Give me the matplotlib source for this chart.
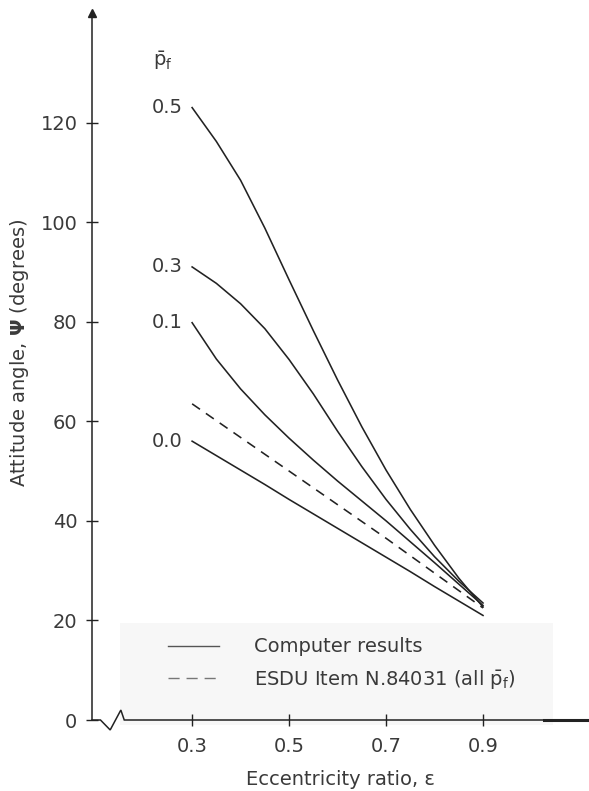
"""
Attitude angle vs eccentricity ratio for several feed pressures,
computer results against the ESDU item line.
"""

import matplotlib
matplotlib.use("Agg")
import matplotlib.pyplot as plt
from matplotlib.lines import Line2D
from matplotlib.patches import Rectangle

INK = "#222222"
TEXT = "#3a3a3a"

ecc = [0.3, 0.35, 0.4, 0.45, 0.5, 0.55, 0.6, 0.65, 0.7, 0.75, 0.8, 0.85, 0.9]
psi_pf_05 = [123, 116.2, 108.4, 98.8, 88.4, 78.2, 68.3, 58.9, 50.2, 42.3, 35.1, 28.5, 22.7]
psi_pf_03 = [91, 87.7, 83.6, 78.6, 72.4, 65.5, 58, 50.9, 44.3, 38.3, 32.8, 27.9, 23.5]
psi_pf_01 = [79.8, 72.5, 66.5, 61.3, 56.6, 52.2, 48, 44, 40, 35.8, 31.6, 27.3, 23]
psi_pf_00 = [56, 53.1, 50.2, 47.3, 44.3, 41.4, 38.5, 35.6, 32.7, 29.8, 26.8, 23.9, 21]
curve_labels = ["0.5", "0.3", "0.1", "0.0"]

esdu_ecc = [0.3, 0.5, 0.7, 0.9]
esdu_psi = [63.5, 50, 36.5, 22.5]

xticks = [0.3, 0.5, 0.7, 0.9]
yticks = [0, 20, 40, 60, 80, 100, 120]


def main():
    plt.rcParams["font.family"] = ["DejaVu Sans"]
    plt.rcParams["mathtext.fontset"] = "dejavusans"

    fig = plt.figure(figsize=(5.89, 7.91), dpi=100)
    ax = fig.add_axes([92 / 589, 71 / 791, 497 / 589, 707 / 791])
    ax.set_facecolor("none")
    x0, x1 = 0.0935, 1.1186
    ax.set_xlim(x0, x1)
    ax.set_ylim(0, 142)

    # faint grey scan patch behind the legend
    ax.add_patch(Rectangle((120 / 589, (791 - 725) / 791), 433 / 589, 102 / 791,
                           transform=fig.transFigure, facecolor="#f7f7f7",
                           edgecolor="none", zorder=0, clip_on=False))

    for s in ["top", "right", "bottom"]:
        ax.spines[s].set_visible(False)
    ax.spines["left"].set_color(INK)
    ax.spines["left"].set_linewidth(1.1)

    # x axis with break
    kw = dict(color=INK, lw=1.1, clip_on=False, solid_joinstyle="miter")
    ax.plot([x0, 0.111, 0.131, 0.153, 0.160, x1], [0, 0, -2.0, 2.0, 0, 0], **kw)
    ax.plot([1.025, x1], [0, 0], color=INK, lw=2.2, clip_on=False)
    # arrow at top of y axis
    ax.plot([x0], [142], marker="^", markersize=6, color=INK, clip_on=False)

    ax.set_xticks(xticks)
    ax.set_xticklabels([f"{t:.1f}" for t in xticks])
    ax.set_yticks(yticks)
    ax.tick_params(direction="inout", length=9, width=1, color=INK,
                   labelsize=14, labelcolor=TEXT)
    ax.tick_params(axis="y", pad=6)
    ax.tick_params(axis="x", pad=8)

    # computer results
    for vals, lab in zip([psi_pf_05, psi_pf_03, psi_pf_01, psi_pf_00], curve_labels):
        ax.plot(ecc, vals, color=INK, lw=1.15)
        ax.text(0.281, vals[0], lab, ha="right", va="center",
                fontsize=14, color=TEXT)

    ax.plot(esdu_ecc, esdu_psi, color=INK, lw=1.15, dashes=(6, 4.5))

    ax.text(0.24, 132.5, r"$\bar{\mathrm{p}}_{\mathrm{f}}$", ha="center",
            va="center", fontsize=14, color=TEXT)

    handles = [
        Line2D([], [], color="#555555", lw=1.0),
        Line2D([], [], color="#777777", lw=1.0, dashes=(8, 5)),
    ]
    leg = ax.legend(handles, ["Computer results",
                              r"ESDU Item N.84031 (all $\bar{\mathrm{p}}_{\mathrm{f}}$)"],
                    loc="upper left", bbox_to_anchor=(0.2509, 16.6),
                    bbox_transform=ax.transData, frameon=False, fontsize=14,
                    handlelength=2.6, handletextpad=1.8, labelspacing=0.6,
                    borderpad=0, borderaxespad=0, labelcolor=TEXT)
    leg.set_zorder(5)

    ax.set_xlabel("Eccentricity ratio, ε", fontsize=14, color=TEXT, labelpad=10)
    ax.set_ylabel(r"Attitude angle, $\mathbf{\Psi}$ (degrees)", fontsize=14, color=TEXT)
    ax.yaxis.set_label_coords(-0.123, 0.52)

    fig.savefig("out.png", dpi=100)
    plt.close(fig)


if __name__ == "__main__":
    main()
